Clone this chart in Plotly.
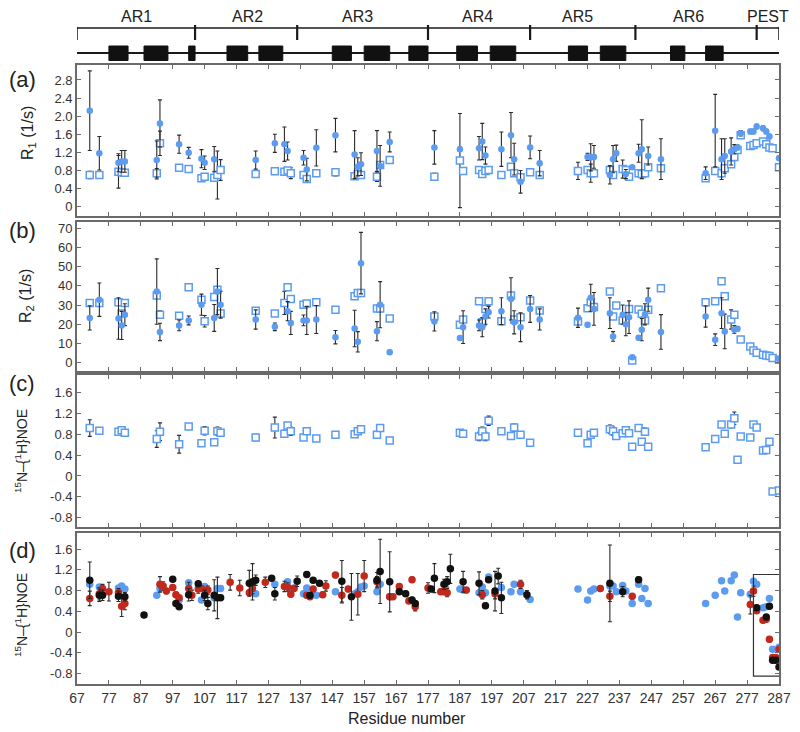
import plotly.graph_objects as go

# ---------------- data ----------------
res_relax = [71, 74, 80, 81, 82, 92, 93, 99, 102, 106, 107, 110, 111, 112, 123, 129, 132, 133, 134, 138,
             139, 142, 148, 154, 155, 156, 161, 162, 165,
             179, 187, 188, 193, 194, 195, 196, 200, 203, 204, 206, 209, 212, 224, 227, 228, 229, 234, 235, 236,
             238, 239, 240, 241, 243, 244, 245, 246, 250, 264, 267, 269, 270, 272, 273, 274, 275, 278, 279, 280,
             282, 283, 284, 285, 287]

r1_filled = [2.12, 1.18, 0.97, 1.00, 1.00, 1.03, 1.84, 1.38, 1.19, 1.06, 0.97, 1.05, None, None, 1.03,
             1.40, 1.38, 1.23, None, 1.08, 0.82, 1.30, 1.58, 1.15, 0.88, 0.94, 1.23, 0.90, 1.43,
             1.31, 1.27, None, 1.29, 1.44, 1.13, None, 1.27, 1.58, 1.05, 0.55, 1.31, 0.96, None, 1.10,
             1.09, 1.10, 0.70, 1.05, 1.18, None, 0.72, None, 0.87, 1.18, 1.27, None, 1.12, 1.05, 0.74,
             1.68, 1.05, 1.12, 1.22, 1.27, 1.31, 1.62, 1.66, 1.66, 1.77, 1.73, 1.66, 1.55, None, 1.07]
r1_filled_err = [0.88, 0.37, 0.20, 0.24, 0.24, 0.42, 0.52, 0.20, 0.12, 0.20, 0.15, 0.28, 0, 0, 0.20,
                 0.20, 0.38, 0.20, 0, 0.16, 0.25, 0.40, 0.37, 0.53, 0.20, 0.25, 0.45, 0.45, 0.22,
                 0.37, 0.05, 0, 0.26, 0.40, 0.19, 0, 0.38, 0.50, 0.35, 0.25, 0.25, 0.28, 0, 0.08,
                 0.30, 0.25, 0.20, 0.30, 0.18, 0, 0.10, 0, 0, 0.20, 0.65, 0, 0.20, 0.45, 0.14,
                 0.80, 0.45, 0.38, 0.30, 0.10, 0.05, 0.06, 0.05, 0.05, 0.05, 0.05, 0.05, 0.05, 0, 0.05]
r1_open = [0.70, 0.70, 0.77, 0.76, 0.75, 0.74, 1.40, 0.86, 0.83, 0.63, 0.66, 0.64, 0.70, 0.81, 0.72,
           0.78, 0.77, 0.80, 0.74, 0.70, 0.61, 0.74, 0.76, 0.67, 0.72, 0.70, 0.66, 0.92, 1.03,
           0.66, 1.02, 0.79, 0.81, 0.72, 0.79, 0.81, 0.70, 0.88, 0.74, 0.65, 0.76, 0.70, 0.79, 0.81,
           0.74, 0.74, 0.81, 0.70, None, 0.83, 0.81, 0.66, None, 0.74, 0.72, 0.74, 0.87, 0.85, 0.63,
           0.79, 0.74, 0.85, 0.94, 1.10, 1.25, 1.58, 1.34, 1.36, 1.40, 1.44, 1.38, 1.31, 1.29, 0.87]
r1_open_err = [0.08, 0.05, 0.36, 0.08, 0.06, 0.10, 0.27, 0.04, 0.03, 0.05, 0.05, 0.06, 0.53, 0.23, 0.05,
               0.05, 0.04, 0.04, 0.12, 0.05, 0.04, 0.05, 0.08, 0.06, 0.06, 0.05, 0.10, 0.05, 0.05,
               0.08, 1.04, 0.05, 0.06, 0.05, 0.05, 0.05, 0.05, 0.06, 0.05, 0.05, 0.05, 0.05, 0.19, 0.05,
               0.20, 0.05, 0.10, 0.05, 0, 0.20, 0.04, 0.05, 0, 0.06, 0.06, 0.05, 0.05, 0.06, 0.05,
               0.06, 0.08, 0.05, 0.05, 0.05, 0.05, 0.05, 0, 0, 0, 0, 0, 0, 0, 0]

r2_filled = [23.3, 32.8, 23.0, 19.4, 25.0, 37.0, 16.0, 19.4, 22.0, 30.2, None, 23.3, 37.0, 30.2, 22.5,
             18.7, None, 26.8, 20.7, 22.0, 22.0, 22.5, 13.3, 17.8, 10.9, 51.8, 16.4, 30.2, 5.5,
             21.5, 12.8, 18.5, 19.4, 18.5, 24.0, 26.3, 26.8, 33.2, 21.0, 18.5, 28.0, 22.5, 23.4, 19.8,
             33.8, 28.0, 25.8, 13.7, None, 25.0, 20.0, 23.7, 2.9, 13.0, 17.2, 25.2, 32.8, 16.0, 24.0,
             12.0, 25.8, 16.3, None, 17.3, 17.7, None, None, None, None, None, None, None, None, 2.0]
r2_filled_err = [6.3, 8.7, 10.8, 7.3, 5.7, 17, 4.5, 2.8, 2.3, 5.5, 0, 7, 12, 7, 5,
                 2, 0, 5, 6, 2.8, 7.3, 7.3, 3.5, 9.5, 5.3, 16, 5, 12, 1,
                 5, 0.8, 8.5, 2.8, 5, 4, 3, 7, 11, 6, 7.5, 7, 5.5, 5, 1,
                 7, 8.5, 8, 2.5, 0, 5, 6, 8.5, 0.5, 1, 5.8, 5.5, 6, 9, 5.5,
                 3, 8, 9, 0, 2, 1, 0, 0, 0, 0, 0, 0, 0, 0, 0.5]
r2_open = [31.1, 31.1, 31.5, 25.6, 31.1, 35.0, 25.0, 24.5, 39.2, 32.8, 21.6, 34.2, 38.0, 25.6, 27.1,
           25.6, 31.1, 39.2, 33.2, 30.2, 30.8, 31.5, 27.6, 34.6, 36.3, 36.3, 28.2, 28.2, 23.0,
           24.0, 19.8, 22.5, 32.0, 21.0, 28.0, 32.0, 21.6, 35.0, 22.5, 23.7, 32.4, 27.2, 21.5, 28.4,
           31.5, 29.0, 37.0, 24.0, 29.8, 22.0, None, 28.0, 1.2, 27.7, 25.5, 22.0, 27.6, 38.8, 31.5,
           32.0, 42.4, 34.6, 22.5, 25.0, None, 12.1, 8.5, 6.4, 5.2, 4.2, 3.8, 3.5, 2.4, 1.6]
r2_open_err = [0, 0, 0, 0, 0, 0, 2, 0, 0, 0, 3, 0, 0, 0, 0,
               0, 6, 0, 0, 0, 0, 0, 0, 0, 0, 0, 0, 0, 0,
               0, 0, 0, 0, 0, 0, 0, 0, 0, 0, 0, 0, 0, 0, 0,
               0, 0, 0, 0, 0, 0, 0, 0, 0, 0, 0, 0, 0, 0, 0,
               0, 0, 0, 5, 0, 0, 0, 0, 0, 0, 0, 0, 0, 0, 0]

noe_c_res = [71, 74, 80, 81, 82, 92, 93, 99, 102, 106, 107, 110, 111, 112, 123, 129, 132, 133, 134, 138,
             139, 142, 148, 154, 155, 156, 161, 162, 165, 187, 188, 193, 194, 195, 196, 200, 203, 204, 206, 209,
             224, 227, 228, 229, 234, 235, 236, 238, 239, 240, 241, 243, 244, 245, 246, 264, 267, 269, 270, 272,
             273, 274, 275, 278, 279, 280, 282, 283, 284, 285, 287]
noe_c = [0.92, 0.87, 0.85, 0.88, 0.83, 0.71, 0.85, 0.61, 0.95, 0.63, 0.87, 0.65, 0.86, 0.83, 0.74, 0.93, 0.81,
         0.97, 0.86, 0.74, 0.86, 0.72, 0.79, 0.80, 0.86, 0.90, 0.79, 0.92, 0.68, 0.83, 0.81, 0.76, 0.86, 0.76,
         1.06, 0.86, 0.77, 0.93, 0.79, 0.64, 0.83, 0.63, 0.79, 0.83, 0.90, 0.86, 0.77, 0.82, 0.88, 0.82, 0.56,
         0.92, 0.66, 0.85, 0.56, 0.55, 0.71, 0.99, 0.81, 0.99, 1.11, 0.31, 0.76, 0.74, 0.99, 0.93, 0.49, 0.50,
         0.66, -0.30, -0.28]
noe_c_err = [0.16, 0.06, 0, 0.05, 0, 0.16, 0.17, 0.17, 0, 0, 0.08, 0, 0.08, 0, 0.06, 0.20, 0.07,
             0, 0.08, 0, 0, 0.03, 0, 0, 0, 0, 0, 0, 0, 0, 0, 0.08, 0.08, 0.08,
             0.09, 0, 0.05, 0.07, 0, 0, 0.06, 0, 0, 0.05, 0.08, 0.08, 0, 0, 0, 0, 0.05,
             0, 0.05, 0.07, 0, 0.05, 0, 0.05, 0, 0.06, 0.12, 0, 0, 0.05, 0, 0, 0, 0,
             0, 0, 0]

noe_blue_res = [71, 74, 80, 81, 82, 92, 93, 99, 102, 106, 107, 110, 111, 112, 123, 129, 133, 134, 135, 138,
                139, 142, 148, 154, 155, 156, 157, 161, 162, 165, 187, 188, 193, 194, 195, 196, 200, 203, 204,
                206, 209, 224, 227, 228, 229, 234, 235, 236, 238, 239, 241, 243, 244, 245, 246, 264, 267, 269,
                270, 272, 273, 274, 275, 278, 279, 280, 282, 283, 284, 285, 287]
noe_blue = [0.92, 0.87, 0.85, 0.89, 0.83, 0.71, 0.84, 0.62, 0.95, 0.62, 0.88, 0.66, 0.84, 0.84, 0.74,
            0.92, 0.97, 0.80, 0.85, 0.74, 0.85, 0.71, 0.78, 0.74, 0.78, 0.87, 0.89, 0.78, 0.92, 0.68,
            0.83, 0.81, 0.76, 0.87, 0.76, 1.06, 0.86, 0.78, 0.92, 0.78, 0.63,
            0.83, 0.62, 0.79, 0.83, 0.89, 0.89, 0.78, 0.90, 0.79, 0.55, 0.92, 0.65, 0.84, 0.55,
            0.55, 0.71, 0.99, 0.79, 0.99, 1.10, 0.29, 0.76, 0.73, 0.98, 0.92, 0.47, 0.49, 0.65, -0.33, -0.29]

noe_red_res = [71, 74, 75, 77, 80, 81, 82, 93, 94, 95, 97, 98, 99, 102, 103, 105, 106, 108, 115, 118,
               121, 122, 126, 132, 133, 134, 135, 139, 140, 141, 144, 145, 148, 150, 152, 155, 157, 161, 165, 166,
               168, 171, 172, 173, 177, 181, 182, 183, 189, 194, 198, 206, 231, 234, 241, 278, 279, 280, 282, 283,
               284, 285, 286, 287]
noe_red = [0.65, 0.74, 0.84, 0.78, 0.76, 0.50, 0.55, 0.92, 0.89, 0.79, 0.86, 0.72, 0.66, 0.84, 0.71,
           0.83, 0.84, 0.81, 0.96, 0.85, 0.76, 0.84, 0.96, 0.88, 0.87, 0.73, 0.84, 0.71, 0.68, 0.83,
           0.72, 0.89, 1.10, 0.71, 0.83, 0.73, 1.08, 0.97, 0.68, 0.68, 0.88, 0.60, 1.01, 0.49, 0.85,
           0.78, 0.78, 0.76, 0.81, 0.72, 0.74, 0.92, 0.84, 0.69, 0.69, 0.53, 0.79, 0.41, 0.23, 0.25,
           -0.14, -0.49, -0.49, -0.33]
noe_red_err = [0.14, 0.12, 0.08, 0.18, 0.08, 0.20, 0.12, 0.15, 0.08, 0.05, 0.05, 0.05, 0.05, 0.12, 0.10,
               0.08, 0.05, 0.08, 0.15, 0.15, 0.05, 0.10, 0.10, 0.10, 0.08, 0.05, 0.05, 0.05, 0.05, 0.05,
               0.05, 0.10, 0.05, 0.15, 0.05, 0.40, 0.30, 0.10, 0.05, 0.05, 0.05, 0.05, 0.05, 0.08, 0.10,
               0.05, 0.05, 0.08, 0.05, 0.08, 0.10, 0.08, 0.05, 0.10, 0.05, 0.18, 0.10, 0.05, 0.05, 0.05,
               0.05, 0.05, 0.05, 0.05]

noe_black_res = [71, 74, 75, 80, 82, 88, 97, 98, 99, 102, 105, 107, 108, 110, 111, 112, 121, 122, 123, 128,
                 129, 136, 139, 140, 141, 143, 150, 153, 161, 162, 165, 168, 170, 172, 173, 178, 179, 182, 183,
                 184, 188, 193, 195, 196, 198, 199, 200, 208, 234, 238, 243, 280, 283, 284, 285, 286, 287]
noe_black = [1.00, 0.71, 0.71, 0.69, 0.68, 0.33, 1.02, 0.55, 0.49, 0.72, 0.93, 0.71, 0.55, 0.71, 0.66,
             0.66, 0.94, 0.97, 1.00, 1.04, 0.74, 0.98, 1.11, 0.71, 1.00, 0.94, 0.98, 0.68, 1.00, 1.17,
             0.97, 0.78, 0.74, 0.62, 0.55, 0.83, 1.04, 0.92, 0.97, 1.22, 0.97, 0.94, 0.51, 1.01, 0.79,
             1.08, 0.66, 0.72, 0.94, 0.78, 1.01, 0.47, 0.29, 0.50, -0.54, -0.54, -0.67]
noe_black_err = [0.35, 0.12, 0.10, 0.10, 0.08, 0.03, 0.03, 0.03, 0.05, 0.12, 0.05, 0.10, 0.12, 0.30, 0.40,
                 0.05, 0.25, 0.35, 0.10, 0.05, 0.12, 0.10, 0.05, 0.05, 0.05, 0.05, 0.40, 0.45, 0.15, 0.62,
                 0.58, 0.05, 0.05, 0.05, 0.05, 0.05, 0.28, 0.10, 0.10, 0.28, 0.20, 0.22, 0.05, 0.05, 0.38,
                 0.15, 0.30, 0.08, 0.74, 0.10, 0.05, 0.05, 0.05, 0.05, 0.05, 0.05, 0.05]

# domain architecture (residue numbers)
domain_bounds = [67, 104, 136, 177, 209, 242, 280, 287]
domain_labels = ["AR1", "AR2", "AR3", "AR4", "AR5", "AR6", "PEST"]
domain_label_res = [85.5, 120.5, 155, 192.5, 224, 258.5, 283.5]
helix_start = [77, 88, 102, 114, 124, 147, 157, 171, 186, 196.5, 221, 231, 253, 264]
helix_end = [83, 95.5, 104, 120.5, 131.5, 153, 165, 177, 192.5, 204.5, 227, 239, 257.5, 269.5]

# highlighted region in panel (d)
box_res = [279, 288.6]
box_noe = [-0.85, 1.11]

x_ticks = list(range(67, 288, 10))
r1_ticks = [0, 0.4, 0.8, 1.2, 1.6, 2.0, 2.4, 2.8]
r1_ticktext = ["0", "0.4", "0.8", "1.2", "1.6", "2.0", "2.4", "2.8"]
r2_ticks = [0, 10, 20, 30, 40, 50, 60, 70]
noe_ticks = [-0.8, -0.4, 0, 0.4, 0.8, 1.2, 1.6]
noe_ticktext = ["-0.8", "-0.4", "0", "0.4", "0.8", "1.2", "1.6"]

# ---------------- style ----------------
BLUE = '#5b9bf0'
RED = '#c2281c'
BLACK = '#111111'
ERR = '#2a2a2a'
AXC = '#6a6a6a'
TXT = '#333333'
FONT = 'Liberation Sans, Arial, sans-serif'

# the page adds an 8 px body margin; everything below is given in page pixels
OFF = 8
PAGE_BOTTOM = 684          # page row of the bottom of panel (d)
FIG_W, FIG_H = 792, 724
PLOT_H = PAGE_BOTTOM - OFF  # plotting height in figure px (top margin 0)


def eb(arr):
    return dict(type='data', array=arr, visible=True, color=ERR, thickness=1.1, width=2)


OPEN_SQ = dict(symbol='square', size=7, color='white', line=dict(width=1.5, color=BLUE))

fig = go.Figure()

# panel (a)
fig.add_trace(go.Scatter(x=res_relax, y=r1_open, mode='markers', error_y=eb(r1_open_err), marker=OPEN_SQ,
                         xaxis='x', yaxis='y', showlegend=False))
fig.add_trace(go.Scatter(x=res_relax, y=r1_filled, mode='markers', error_y=eb(r1_filled_err),
                         marker=dict(symbol='circle', size=6.5, color=BLUE),
                         xaxis='x', yaxis='y', showlegend=False))
# panel (b)
fig.add_trace(go.Scatter(x=res_relax, y=r2_open, mode='markers', error_y=eb(r2_open_err), marker=OPEN_SQ,
                         xaxis='x2', yaxis='y2', showlegend=False))
fig.add_trace(go.Scatter(x=res_relax, y=r2_filled, mode='markers', error_y=eb(r2_filled_err),
                         marker=dict(symbol='circle', size=6.5, color=BLUE),
                         xaxis='x2', yaxis='y2', showlegend=False))
# panel (c)
fig.add_trace(go.Scatter(x=noe_c_res, y=noe_c, mode='markers', error_y=eb(noe_c_err), marker=OPEN_SQ,
                         xaxis='x3', yaxis='y3', showlegend=False))
# panel (d)
fig.add_trace(go.Scatter(x=noe_blue_res, y=noe_blue, mode='markers',
                         marker=dict(symbol='circle', size=7.5, color=BLUE),
                         xaxis='x4', yaxis='y4', showlegend=False))
fig.add_trace(go.Scatter(x=noe_red_res, y=noe_red, mode='markers', error_y=eb(noe_red_err),
                         marker=dict(symbol='circle', size=7.5, color=RED),
                         xaxis='x4', yaxis='y4', showlegend=False))
fig.add_trace(go.Scatter(x=noe_black_res, y=noe_black, mode='markers', error_y=eb(noe_black_err),
                         marker=dict(symbol='circle', size=7.5, color=BLACK),
                         xaxis='x4', yaxis='y4', showlegend=False))
# invisible anchor trace for the domain diagram axes
fig.add_trace(go.Scatter(x=[domain_bounds[0]], y=[30], mode='markers', marker=dict(opacity=0),
                         xaxis='x5', yaxis='y5', showlegend=False, hoverinfo='skip'))

# ---------------- layout ----------------
pan = {  # top, bottom page rows of each panel
    'a': (65, 216), 'b': (222, 371), 'c': (375, 527), 'd': (533, 684)}


def py(px):
    return (PAGE_BOTTOM - px) / PLOT_H


def px_x(px):
    return (px - 77) / 702.0


def dom(k):
    t, b = pan[k]
    return [py(b), py(t)]


xcommon = dict(range=[67, 287], tickvals=x_ticks, ticks='inside', ticklen=4, tickwidth=1.2, tickcolor=AXC,
               showline=True, linecolor=AXC, linewidth=1.8, mirror='ticks', showgrid=False, zeroline=False,
               tickfont=dict(family='Liberation Sans Narrow, Arial Narrow, Liberation Sans, Arial', size=14, color=TXT))
ycommon = dict(ticks='inside', ticklen=4, tickwidth=1.2, tickcolor=AXC, showline=True, linecolor=AXC,
               linewidth=1.8, mirror='ticks', showgrid=False, zeroline=False,
               tickfont=dict(family=FONT, size=13, color=TXT))

layout = dict(
    width=FIG_W, height=FIG_H, margin=dict(l=77 - OFF, r=21, t=0, b=FIG_H - PLOT_H),
    paper_bgcolor='white', plot_bgcolor='white', font=dict(family=FONT, color=TXT),
    xaxis=dict(xcommon, anchor='y', showticklabels=False),
    xaxis2=dict(xcommon, anchor='y2', showticklabels=False, matches='x'),
    xaxis3=dict(xcommon, anchor='y3', showticklabels=False, matches='x'),
    xaxis4=dict(xcommon, anchor='y4', showticklabels=True, matches='x'),
    xaxis5=dict(range=[67, 287], anchor='y5', visible=False, matches='x'),
    yaxis=dict(ycommon, anchor='x', domain=dom('a'), range=[-0.206, 3.13], tickvals=r1_ticks, ticktext=r1_ticktext),
    yaxis2=dict(ycommon, anchor='x2', domain=dom('b'), range=[-4.3, 73.2], tickvals=r2_ticks),
    yaxis3=dict(ycommon, anchor='x3', domain=dom('c'), range=[-0.98, 1.94], tickvals=noe_ticks, ticktext=noe_ticktext),
    yaxis4=dict(ycommon, anchor='x4', domain=dom('d'), range=[-1.0, 1.91], tickvals=noe_ticks, ticktext=noe_ticktext),
    yaxis5=dict(anchor='x5', domain=[py(62), 1.0], range=[62, OFF], visible=False),
)
fig.update_layout(**layout)

shapes = []
# domain bracket
shapes.append(dict(type='line', xref='x5', yref='y5', x0=domain_bounds[0], x1=domain_bounds[-1], y0=28, y1=28,
                   line=dict(color='#1a1a1a', width=1.5)))
for i, b in enumerate(domain_bounds):
    end = i in (0, len(domain_bounds) - 1)
    shapes.append(dict(type='line', xref='x5', yref='y5', x0=b, x1=b, y0=27 if end else 25, y1=40,
                       line=dict(color='#1a1a1a', width=1.5 if end else 2.2)))
# secondary-structure line and helix boxes
shapes.append(dict(type='line', xref='x5', yref='y5', x0=domain_bounds[0], x1=domain_bounds[-1], y0=53, y1=53,
                   line=dict(color='#1a1a1a', width=2)))
for s, e in zip(helix_start, helix_end):
    shapes.append(dict(type='rect', xref='x5', yref='y5', x0=s, x1=e, y0=46, y1=60.5,
                       fillcolor='#111111', line=dict(color='#111111', width=1)))
# highlight box in panel (d)
shapes.append(dict(type='rect', xref='x4', yref='y4', x0=box_res[0], x1=box_res[1], y0=box_noe[0], y1=box_noe[1],
                   line=dict(color='#333333', width=1.2), fillcolor='rgba(0,0,0,0)'))
fig.update_layout(shapes=shapes)

ann = []
for lab, r in zip(domain_labels, domain_label_res):
    ann.append(dict(text=lab, x=r, y=16, xref='x5', yref='y5', showarrow=False,
                    xanchor='center', yanchor='middle',
                    font=dict(size=16, color='#222222', family=FONT)))

panel_letters = ['(a)', '(b)', '(c)', '(d)']
letter_rows = [79, 231, 383, 550]
for t, r in zip(panel_letters, letter_rows):
    ann.append(dict(text=t, x=px_x(22), y=py(r), xref='paper', yref='paper', showarrow=False,
                    xanchor='center', yanchor='middle',
                    font=dict(size=22, color='#222222', family=FONT)))

ytitles = ['R<sub>1</sub> (1/s)', 'R<sub>2</sub> (1/s)', '<sup>15</sup>N\u2013{<sup>1</sup>H}NOE',
           '<sup>15</sup>N\u2013{<sup>1</sup>H}NOE']
ytitle_rows = [133, 296, 451, 615]
ytitle_cols = [28, 27, 21, 21]
ytitle_sizes = [16, 16, 14, 14]
for t, r, c, s in zip(ytitles, ytitle_rows, ytitle_cols, ytitle_sizes):
    ann.append(dict(text=t, x=px_x(c), y=py(r), xref='paper', yref='paper', showarrow=False, textangle=-90,
                    xanchor='center', yanchor='middle',
                    font=dict(size=s, color='#222222', family=FONT)))

ann.append(dict(text='Residue number', x=px_x(407), y=py(718), xref='paper', yref='paper', showarrow=False,
                xanchor='center', yanchor='middle',
                font=dict(size=16, color='#222222', family=FONT)))
fig.update_layout(annotations=ann)

fig.write_html('out.html')
